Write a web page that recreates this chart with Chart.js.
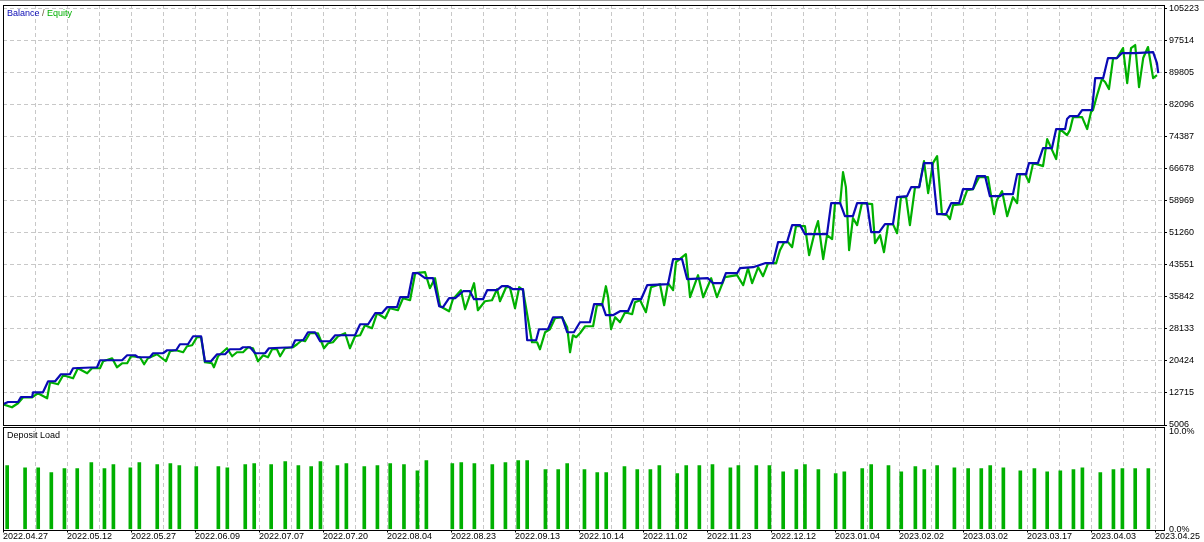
<!DOCTYPE html>
<html>
<head>
<meta charset="utf-8">
<script src="https://cdn.jsdelivr.net/npm/chart.js@4.4.1/dist/chart.umd.min.js"></script>
<style>
  html, body { margin: 0; padding: 0; background: #fff; }
  #wrap { position: relative; width: 1204px; height: 542px; overflow: hidden; }
  #balance-chart { position: absolute; left: 0; top: 0; }
  #load-chart { position: absolute; left: 0; top: 427px; }
  #topline { position: absolute; left: 0; top: 0; width: 1204px; height: 1px; background: #a0a0a0; }
</style>
</head>
<body>
<div id="wrap">
  <canvas id="balance-chart" width="1204" height="427"></canvas>
  <canvas id="load-chart" width="1204" height="115"></canvas>
  <div id="topline"></div>
</div>
<script>
// x is the deal counter of the tester run, y is money / percent

const dateLabels = ['2022.04.27', '2022.05.12', '2022.05.27', '2022.06.09', '2022.07.07', '2022.07.20',
  '2022.08.04', '2022.08.23', '2022.09.13', '2022.10.14', '2022.11.02', '2022.11.23', '2022.12.12',
  '2023.01.04', '2023.02.02', '2023.03.02', '2023.03.17', '2023.04.03', '2023.04.25'];

const moneyTicks = [5006, 12715, 20424, 28133, 35842, 43551, 51260, 58969, 66678, 74387, 82096, 89805, 97514, 105223];
const loadTicks = [0, 10];

const balanceX = [0, 1.6, 4.7, 5.6, 9.1, 9.4, 12.5, 14.1, 16.3, 18.1,
  20.9, 21.9, 29.4, 30.3, 37.2, 38.8, 41.3, 42.2, 45.9, 46.9,
  50, 51.3, 54.1, 55.3, 57.8, 59.4, 61.9, 63.1, 65, 66.9,
  69.4, 70.9, 74.1, 75, 77.2, 78.8, 81.9, 83.1, 90.3, 91.3,
  93.8, 95.3, 97.5, 99.1, 102.2, 103.8, 110, 111.6, 114.1, 116.3,
  118.4, 120, 123.1, 124.1, 126.6, 128.1, 129.7, 131.9, 134.4, 136.3,
  137.5, 139.4, 141.3, 143.8, 145.9, 147.2, 150, 151.3, 154.4, 155.9,
  157.8, 159.4, 162.5, 163.8, 166.6, 167.5, 170.3, 171.9, 174.7, 176.3,
  178.4, 180.3, 183.4, 184.7, 187.2, 188.4, 190.6, 192.8, 195.3, 196.9,
  199.4, 201.3, 207.8, 209.4, 212.2, 213.8, 220.3, 221.9, 224.7, 225.9,
  229.4, 230.3, 234.4, 238.1, 240.6, 242.2, 245, 246.6, 249.1, 250.6,
  257.5, 258.8, 261.6, 263.1, 265.6, 266.9, 270, 271.3, 273.8, 275.6,
  278.1, 279.4, 282.5, 283.8, 286.3, 287.8, 290.3, 291.9, 294.7, 296.3,
  298.8, 300, 303.1, 304.4, 306.9, 308.4, 311.6, 312.5, 315.6, 316.9,
  319.7, 320.6, 323.4, 325, 327.8, 329.1, 331.9, 332.5, 333.4, 335.9,
  337.2, 340.3, 341.3, 343.8, 345.3, 348.1, 349.7, 353.8, 359.4, 360.6,
  361];
const balanceY = [10000, 10548, 10548, 11751, 11751, 12883, 12883, 15533, 15533, 17219,
  17219, 18664, 18905, 20592, 20592, 21796, 21796, 21315, 21315, 22278,
  22278, 23001, 23001, 24446, 24446, 26374, 26374, 20351, 20351, 22037,
  22037, 23242, 23242, 23724, 23724, 22278, 22278, 23483, 23724, 25410,
  25410, 27337, 27337, 25169, 25169, 26615, 26615, 29264, 29264, 31914,
  31914, 33360, 33360, 35769, 35769, 41550, 41550, 40346, 40346, 33601,
  33360, 35528, 35528, 37214, 37214, 35287, 35287, 37455, 37455, 38419,
  38419, 37696, 37696, 25410, 25410, 28060, 28060, 30951, 30951, 27337,
  27337, 29746, 29746, 34082, 34082, 31433, 31433, 32396, 32396, 35287,
  35287, 38660, 38901, 44923, 44923, 40105, 40346, 39142, 39142, 41550,
  41550, 42755, 42996, 43960, 43960, 49019, 49019, 53114, 53114, 50946,
  50946, 58414, 58414, 55282, 55282, 58414, 58414, 51428, 51428, 53355,
  53355, 59859, 60100, 62268, 62268, 68050, 68050, 55763, 55763, 58414,
  58414, 61786, 61786, 64918, 64918, 60100, 60100, 60581, 60581, 65400,
  65400, 68050, 68050, 71663, 71663, 76240, 76240, 78649, 79372, 79372,
  80817, 80817, 88525, 88525, 93344, 93344, 94548, 94548, 94789, 92139,
  89730];

const equityX = [0, 2.8, 4.7, 6.3, 9.1, 10.9, 13.8, 14.7, 17.2, 18.8,
  21.9, 23.4, 26.3, 27.8, 30.3, 31.3, 34.1, 35.6, 37.2, 38.8,
  40, 42.8, 44.1, 45.3, 48.1, 50.9, 52.2, 54.1, 56.3, 57.5,
  59.1, 60.6, 61.9, 63.1, 65.3, 65.9, 67.2, 70, 71.6, 73.1,
  75, 76.6, 78.1, 79.7, 81.3, 82.8, 84.1, 85.6, 86.6, 88.1,
  90.6, 91.9, 93.4, 94.4, 95.9, 98.4, 100.3, 101.6, 103.1, 104.7,
  106.9, 108.4, 110, 111.6, 113.1, 115.3, 116.9, 119.4, 120.9, 123.4,
  125, 127.2, 128.8, 131.9, 133.4, 135, 136.6, 139.4, 140.6, 143.1,
  144.4, 147.2, 148.4, 150.6, 152.8, 154.4, 155.3, 157.2, 158.4, 160,
  161.3, 162.5, 165.3, 166.9, 167.8, 169.4, 170.9, 172.5, 174.7, 176.3,
  177.2, 178.1, 179.1, 180.3, 181.9, 184.4, 185.6, 187.2, 188.4, 189.1,
  190, 191.3, 192.8, 194.4, 196.6, 197.5, 199.1, 200.9, 202.5, 205.3,
  206.6, 207.8, 209.4, 210.3, 213.4, 214.7, 217.2, 218.8, 221.3, 223.1,
  225.6, 229.4, 231.3, 232.8, 234.1, 236, 237.5, 239.1, 241.6, 242.8,
  244.1, 245.3, 246.6, 247.8, 250.6, 251.9, 253.8, 254.7, 256.3, 257.5,
  259.1, 260, 261.6, 262.5, 263.4, 264.4, 265.6, 266.9, 268.4, 271.6,
  272.5, 274.1, 275.3, 276.6, 278.1, 279.4, 280.6, 282.2, 283.4, 285,
  286.3, 287.8, 289.1, 290.6, 291.9, 293.4, 295, 295.9, 296.9, 299.7,
  301.3, 303.1, 305, 307.8, 309.7, 310.6, 312.2, 313.8, 315.6, 316.9,
  317.8, 319.4, 320.6, 321.9, 324.1, 325, 326.3, 329.1, 330.3, 332.5,
  333.4, 334.4, 337.2, 338.8, 340, 340.6, 341.9, 343.4, 344.4, 345.6,
  346.9, 348.1, 350, 351.3, 352.5, 353.8, 355, 356.3, 357.8, 359.4,
  360.6];
const equityY = [10000, 9270, 10235, 11680, 11680, 12642, 11438, 15292, 14810, 16978,
  16255, 18664, 17460, 18664, 18664, 20351, 21074, 18905, 19869, 19869,
  21555, 21315, 19628, 21074, 22037, 20351, 22760, 23001, 22519, 23965,
  24206, 26133, 26133, 20110, 19869, 18905, 21555, 23483, 21555, 22519,
  22519, 23724, 23483, 20351, 21796, 21315, 23242, 23242, 21555, 23483,
  23724, 24446, 25410, 25169, 27096, 27096, 23483, 24687, 24928, 26374,
  27096, 23483, 26374, 26615, 29024, 28301, 31914, 30709, 33118, 32637,
  35528, 35046, 41550, 41791, 37937, 40346, 33601, 32396, 35287, 37455,
  32878, 39142, 32637, 34805, 35046, 37696, 34805, 38178, 38178, 33118,
  38178, 37455, 24928, 24928, 23242, 27337, 28060, 30709, 30951, 28542,
  22519, 26615, 26133, 27096, 28783, 28783, 33842, 33842, 38419, 35769,
  28060, 30951, 29746, 32155, 31673, 34564, 35046, 32155, 38178, 38901,
  33842, 39142, 37455, 44200, 46127, 35769, 41069, 35769, 40346, 35769,
  40587, 41069, 38660, 42755, 39142, 42996, 40828, 43960, 43960, 47091,
  49019, 49019, 47815, 52873, 52873, 45887, 51910, 54078, 44923, 50705,
  49741, 58414, 58414, 65881, 62268, 47091, 54800, 53114, 58414, 58174,
  48777, 50705, 46609, 53355, 53355, 51187, 59859, 59859, 53114, 62268,
  62268, 68531, 60822, 68050, 69736, 55763, 55522, 54559, 57931, 58174,
  61545, 61786, 64677, 64677, 55763, 59136, 61304, 55282, 59859, 58414,
  65400, 65400, 63472, 68050, 67568, 67327, 73832, 69014, 76240, 74795,
  75999, 79131, 79131, 76240, 80335, 80817, 84430, 88285, 87562, 85876,
  93344, 93344, 95753, 87321, 95753, 96476, 86358, 93344, 95994, 88525,
  89248];

// deposit load in %, one bar per trade
const loadX = [1.3, 6.9, 11, 15.1, 19.2, 23.2, 27.6, 31.7, 34.5, 39.8,
  42.6, 48.2, 52.3, 55.1, 60.4, 67.3, 70.1, 75.7, 78.5, 83.8,
  88.2, 92.3, 96.3, 99.2, 104.5, 107.3, 112.9, 117, 121, 125.3,
  129.5, 132.3, 140.4, 143.2, 147.3, 152.9, 157, 161, 163.8, 169.5,
  173.5, 176.3, 181.7, 185.7, 188.5, 194.2, 198.2, 202.3, 205.1, 210.7,
  213.5, 217.6, 221.7, 227.3, 229.8, 235.4, 239.5, 243.8, 247.9, 250.6,
  254.8, 260.2, 262.9, 268.5, 271.3, 276.7, 280.7, 285.1, 287.9, 291.9,
  297.3, 301.6, 305.7, 308.5, 312.6, 317.9, 322.3, 326.3, 330.4, 334.5,
  337.3, 342.9, 347, 349.8, 353.8, 357.9];
const loadY = [6.54, 6.33, 6.33, 5.82, 6.23, 6.23, 6.85, 6.23, 6.64, 6.33,
  6.85, 6.64, 6.75, 6.54, 6.44, 6.44, 6.33, 6.64, 6.75, 6.64,
  6.95, 6.54, 6.44, 6.95, 6.54, 6.75, 6.44, 6.54, 6.75, 6.64,
  6.02, 7.05, 6.75, 6.85, 6.75, 6.64, 6.85, 7.05, 7.05, 6.13,
  6.13, 6.75, 6.13, 5.82, 5.82, 6.44, 6.13, 6.13, 6.54, 5.72,
  6.54, 6.54, 6.64, 6.33, 6.54, 6.54, 6.54, 5.92, 6.13, 6.64,
  6.13, 5.72, 5.92, 6.23, 6.64, 6.54, 5.92, 6.44, 6.13, 6.54,
  6.33, 6.23, 6.23, 6.54, 6.33, 6.02, 6.23, 5.92, 6.02, 6.13,
  6.33, 5.82, 6.13, 6.23, 6.23, 6.23];

const X_MAX = 362.8;
const BLUE = '#0a0ab4';
const GREEN = '#00b000';
const GRID = '#c8c8c8';

Chart.defaults.font.family = '"Liberation Sans", Arial, sans-serif';
Chart.defaults.font.size = 9;
Chart.defaults.color = '#000';

function toPoints(xs, ys) {
    return xs.map((x, i) => ({ x: x, y: ys[i] }));
}

// grid every 10 deals, date label every 20
const gridSteps = [];
for (let v = 0; v <= 360; v += 10) gridSteps.push(v);

function xGridColor(c) {
    return c.tick && c.tick.value === 0 ? 'rgba(0,0,0,0)' : GRID;
}

// black frame round the plot area
const framePlugin = {
    id: 'frame',
    afterDraw(chart) {
        const { ctx, chartArea: a } = chart;
        ctx.save();
        ctx.strokeStyle = '#000';
        ctx.lineWidth = 1;
        ctx.strokeRect(Math.round(a.left) + 0.5, Math.round(a.top) + 0.5,
            Math.round(a.right - a.left), Math.round(a.bottom - a.top));
        ctx.restore();
    }
};

const balanceTitle = {
    id: 'balanceTitle',
    afterDraw(chart) {
        const ctx = chart.ctx;
        ctx.save();
        ctx.font = '9px "Liberation Sans", Arial, sans-serif';
        ctx.textBaseline = 'middle';
        let x = 7;
        ctx.fillStyle = BLUE;
        ctx.fillText('Balance', x, 14);
        x += ctx.measureText('Balance').width;
        ctx.fillStyle = '#6b5a3a';
        ctx.fillText(' / ', x, 14);
        x += ctx.measureText(' / ').width;
        ctx.fillStyle = GREEN;
        ctx.fillText('Equity', x, 14);
        ctx.restore();
    }
};

const loadTitle = {
    id: 'loadTitle',
    afterDraw(chart) {
        const ctx = chart.ctx;
        ctx.save();
        ctx.font = '9px "Liberation Sans", Arial, sans-serif';
        ctx.textBaseline = 'middle';
        ctx.fillStyle = '#000';
        ctx.fillText('Deposit Load', 7, 9);
        ctx.restore();
    }
};

new Chart(document.querySelector('#balance-chart').getContext('2d'), {
    type: 'line',
    data: {
        datasets: [
            { label: 'Balance', data: toPoints(balanceX, balanceY), borderColor: BLUE, borderWidth: 2.2,
              pointRadius: 0, tension: 0, borderJoinStyle: 'round' },
            { label: 'Equity', data: toPoints(equityX, equityY), borderColor: GREEN, borderWidth: 2.2,
              pointRadius: 0, tension: 0, borderJoinStyle: 'round' }
        ]
    },
    options: {
        responsive: false,
        animation: false,
        devicePixelRatio: 1,
        layout: { padding: { left: 3, top: 5, right: 0, bottom: 2 } },
        plugins: { legend: { display: false }, tooltip: { enabled: false } },
        scales: {
            x: {
                type: 'linear', min: 0, max: X_MAX, offset: false,
                afterBuildTicks: s => { s.ticks = gridSteps.map(v => ({ value: v })); },
                afterFit: s => { s.height = 0; s.paddingLeft = 0; s.paddingRight = 0; },
                ticks: { display: false },
                grid: { color: xGridColor, drawTicks: false, offset: false },
                border: { display: false, dash: [4, 3] }
            },
            y: {
                position: 'right', min: 5006, max: 106114,
                afterBuildTicks: s => { s.ticks = moneyTicks.map(v => ({ value: v })); },
                afterFit: s => { s.width = 40; s.paddingTop = 0; s.paddingBottom = 0; },
                ticks: { padding: 2, color: '#000', callback: v => String(v) },
                grid: { color: GRID, tickColor: '#000', tickLength: 3, tickBorderDash: [] },
                border: { display: false, dash: [4, 3] }
            }
        }
    },
    plugins: [framePlugin, balanceTitle]
});

new Chart(document.querySelector('#load-chart').getContext('2d'), {
    type: 'bar',
    data: {
        datasets: [{
            label: 'Deposit Load',
            data: toPoints(loadX, loadY),
            backgroundColor: GREEN,
            borderWidth: 0,
            barThickness: 3
        }]
    },
    options: {
        responsive: false,
        animation: false,
        devicePixelRatio: 1,
        layout: { padding: { left: 3, top: 0, right: 0, bottom: 0 } },
        plugins: { legend: { display: false }, tooltip: { enabled: false } },
        scales: {
            x: {
                type: 'linear', min: 0, max: X_MAX, offset: false,
                afterBuildTicks: s => { s.ticks = gridSteps.map(v => ({ value: v })); },
                afterFit: s => { s.height = 12.5; s.paddingLeft = 0; s.paddingRight = 0; },
                ticks: {
                    autoSkip: false, maxRotation: 0, minRotation: 0, align: 'start', padding: 0,
                    color: '#000', font: { size: 9, lineHeight: 1 },
                    callback: v => (v % 20 === 0 ? dateLabels[v / 20] : '')
                },
                grid: {
                    color: xGridColor, offset: false,
                    tickColor: c => (c.tick && c.tick.value % 20 === 0 ? '#000' : 'rgba(0,0,0,0)'),
                    tickLength: 3, tickBorderDash: []
                },
                border: { display: false, dash: [4, 3] }
            },
            y: {
                position: 'right', min: 0, max: 10.5,
                afterBuildTicks: s => { s.ticks = loadTicks.map(v => ({ value: v })); },
                afterFit: s => { s.width = 40; s.paddingTop = 0; s.paddingBottom = 0; },
                ticks: { padding: 2, color: '#000', callback: v => v.toFixed(1) + '%' },
                grid: { drawOnChartArea: false, tickLength: 3, tickColor: 'rgba(0,0,0,0)' },
                border: { display: false }
            }
        }
    },
    plugins: [framePlugin, loadTitle]
});
</script>
</body>
</html>
